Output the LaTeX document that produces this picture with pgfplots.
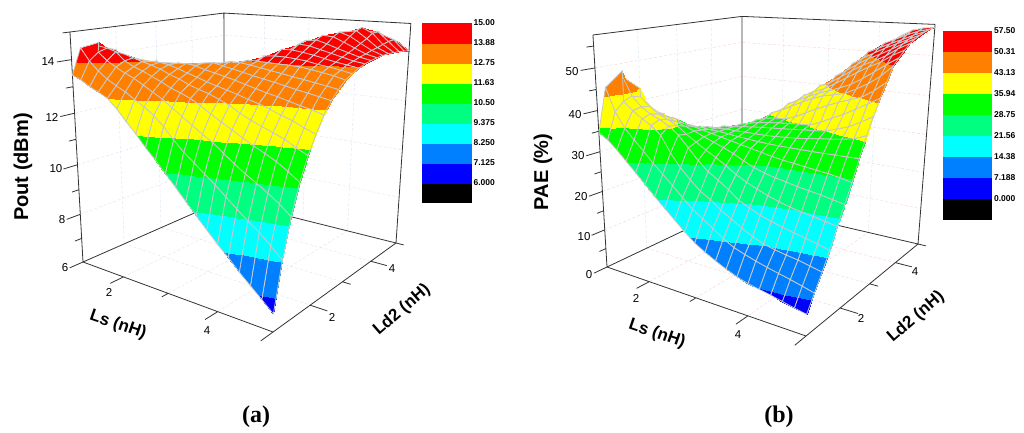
\documentclass[border=0pt]{standalone}
\usepackage{pgfplots}
\usepackage{pgfplotstable}
\pgfplotsset{compat=1.18}
\usepackage{fontspec}
\setmainfont{Liberation Sans}
\newfontfamily\serifb{Liberation Serif}
\definecolor{gridH}{RGB}{232,228,238}
\definecolor{gridV}{RGB}{220,232,245}
\definecolor{gridP}{RGB}{250,215,215}
\definecolor{meshc}{RGB}{200,200,200}
\newcommand{\fs}[1]{\fontsize{#1}{#1}\selectfont}
\pgfplotsset{
  colormap={bands}{rgb255=(0,0,0) rgb255=(0,0,255) rgb255=(0,128,255) rgb255=(0,255,255) rgb255=(0,255,128) rgb255=(0,255,0) rgb255=(255,255,0) rgb255=(255,128,0) rgb255=(255,0,0)},
  panel/.style={scale only axis,width=512pt,height=433pt,hide axis,y dir=reverse,ymin=0,ymax=433,clip=false,
    colormap name=bands,colormap access=piecewise constant,colorbar},
  cbstyle/.style={major tick length=0pt,axis line style={draw=none},
    yticklabel style={font=\fs{8.5}\bfseries,xshift=-1pt}},
  /pgf/declare function={
    lsv(\i)=1+0.2*mod(\i,21);
    ldv(\i)=5-0.2*floor(\i/21);
    % perspective of panel a: Ls, Ld2, Pout to pixels
    aw(\a,\b,\c)=1-0.188*(\a-1)/4+0.239*(\b-1)/4-0.084*(\c-6)/9;
    aX(\a,\b,\c)=(83+138.7*(\a-1)/4+194.5*(\b-1)/4-18.9*(\c-6)/9)/aw(\a,\b,\c);
    aY(\a,\b,\c)=(262+7.6*(\a-1)/4-14.2*(\b-1)/4-232.7*(\c-6)/9)/aw(\a,\b,\c);
    % perspective of panel b: Ls, Ld2, PAE to pixels
    bw(\a,\b,\c)=1-0.1917*(\a-1)/4+0.2527*(\b-1)/4-0.094*\c/57.5;
    bX(\a,\b,\c)=(607+44.5*(\a-1)/4+322.5*(\b-1)/4-69.8*\c/57.5)/bw(\a,\b,\c);
    bY(\a,\b,\c)=(267+4.6*(\a-1)/4-12.7*(\b-1)/4-235.3*\c/57.5)/bw(\a,\b,\c);
  },
  table/ptsA/.style={x expr={aX(\thisrow{s},\thisrow{d},\thisrow{z})},y expr={aY(\thisrow{s},\thisrow{d},\thisrow{z})}},
  table/ptsB/.style={x expr={bX(\thisrow{s},\thisrow{d},\thisrow{z})},y expr={bY(\thisrow{s},\thisrow{d},\thisrow{z})}},
}
% Pout, rows Ld2 = 5 ... 1, columns Ls = 1 ... 5, step 0.2
\pgfplotstableread[row sep=crcr]{z\\%
12.6\\12.62\\12.65\\12.68\\12.7\\12.75\\12.8\\12.84\\12.88\\12.92\\12.98\\13.05\\13.12\\13.25\\13.48\\13.76\\14.05\\14.3\\14.35\\14.25\\13.95\\%
12.68\\12.7\\12.72\\12.76\\12.78\\12.8\\12.84\\12.88\\12.92\\12.96\\13.02\\13.1\\13.18\\13.32\\13.58\\13.88\\14.22\\14.5\\14.55\\14.4\\14\\%
12.72\\12.74\\12.76\\12.8\\12.82\\12.85\\12.88\\12.92\\12.96\\13\\13.06\\13.14\\13.24\\13.4\\13.68\\14\\14.38\\14.7\\14.72\\14.38\\14.03\\%
12.77\\12.78\\12.8\\12.84\\12.86\\12.9\\12.93\\12.97\\13\\13.06\\13.12\\13.2\\13.3\\13.47\\13.78\\14.12\\14.55\\14.9\\14.7\\14.32\\14.05\\%
12.82\\12.84\\12.86\\12.9\\12.92\\12.95\\12.98\\13.02\\13.06\\13.12\\13.18\\13.26\\13.36\\13.55\\13.9\\14.28\\14.75\\14.82\\14.55\\14.25\\14.06\\%
12.88\\12.9\\12.92\\12.95\\12.98\\13\\13.04\\13.08\\13.12\\13.18\\13.24\\13.32\\13.42\\13.65\\14.05\\14.45\\14.78\\14.65\\14.42\\14.2\\14.05\\%
12.95\\12.96\\12.98\\13\\13.03\\13.06\\13.1\\13.14\\13.18\\13.24\\13.3\\13.38\\13.5\\13.8\\14.25\\14.68\\14.65\\14.48\\14.3\\14.12\\14.02\\%
13.02\\13.03\\13.05\\13.08\\13.1\\13.13\\13.16\\13.2\\13.24\\13.3\\13.36\\13.45\\13.6\\13.95\\14.5\\14.55\\14.44\\14.3\\14.18\\14.06\\13.98\\%
13.1\\13.1\\13.12\\13.15\\13.17\\13.2\\13.23\\13.27\\13.3\\13.36\\13.42\\13.52\\13.72\\14.15\\14.42\\14.38\\14.28\\14.18\\14.08\\13.98\\13.92\\%
13.17\\13.17\\13.2\\13.22\\13.25\\13.27\\13.3\\13.34\\13.38\\13.44\\13.5\\13.62\\13.9\\14.25\\14.25\\14.2\\14.13\\14.05\\13.96\\13.9\\13.83\\%
13.25\\13.25\\13.27\\13.3\\13.32\\13.35\\13.38\\13.42\\13.47\\13.52\\13.6\\13.78\\14.02\\14.05\\14.05\\14.02\\13.98\\13.9\\13.85\\13.78\\13.7\\%
13.38\\13.38\\13.38\\13.4\\13.42\\13.44\\13.47\\13.5\\13.55\\13.62\\13.72\\13.88\\13.88\\13.87\\13.86\\13.85\\13.83\\13.78\\13.72\\13.65\\13.55\\%
13.45\\13.45\\13.45\\13.47\\13.5\\13.52\\13.55\\13.6\\13.66\\13.75\\13.85\\13.85\\13.8\\13.74\\13.68\\13.62\\13.55\\13.5\\13.43\\13.37\\13.3\\%
13.55\\13.55\\13.55\\13.58\\13.6\\13.62\\13.66\\13.7\\13.77\\13.83\\13.75\\13.68\\13.6\\13.52\\13.45\\13.38\\13.3\\13.22\\13.15\\13.08\\13\\%
13.7\\13.7\\13.7\\13.7\\13.7\\13.72\\13.75\\13.78\\13.73\\13.63\\13.55\\13.47\\13.38\\13.28\\13.18\\13.08\\13\\12.9\\12.8\\12.72\\12.6\\%
13.85\\13.87\\13.85\\13.82\\13.8\\13.8\\13.75\\13.65\\13.53\\13.42\\13.3\\13.2\\13.1\\13\\12.88\\12.78\\12.65\\12.5\\12.38\\12.2\\12.05\\%
14.1\\14.1\\14.05\\13.95\\13.85\\13.76\\13.65\\13.5\\13.38\\13.22\\13.1\\13\\12.85\\12.7\\12.48\\12.3\\12.15\\12\\11.85\\11.63\\11.45\\%
14.35\\14.3\\14.2\\13.9\\13.72\\13.6\\13.45\\13.3\\13.12\\13\\12.85\\12.65\\12.42\\12.2\\12\\11.78\\11.58\\11.4\\11.2\\10.95\\10.67\\%
14.48\\14.2\\13.92\\13.72\\13.55\\13.4\\13.2\\13\\12.8\\12.55\\12.3\\12.05\\11.8\\11.58\\11.28\\11\\10.73\\10.5\\10.25\\9.97\\9.65\\%
14.38\\13.93\\13.6\\13.35\\13.15\\12.98\\12.75\\12.55\\12.3\\11.97\\11.56\\11.2\\10.9\\10.6\\10.3\\9.97\\9.65\\9.33\\9.05\\8.7\\8.32\\%
13.43\\13.3\\13.1\\12.95\\12.77\\12.45\\12.05\\11.67\\11.25\\10.88\\10.48\\10.07\\9.66\\9.25\\8.85\\8.45\\8.1\\7.7\\7.35\\7\\6.64\\%
}\dataA
% PAE, rows Ld2 = 5 ... 1, columns Ls = 1 ... 5, step 0.2
\pgfplotstableread[row sep=crcr]{z\\%
24.9\\24.7\\24.6\\24.6\\24.6\\24.8\\25.1\\25.5\\26\\26.6\\27.3\\28.6\\31\\34.5\\39\\45\\50\\54.3\\55.8\\56.5\\56.8\\%
25.2\\25\\24.9\\24.9\\24.9\\25.1\\25.4\\25.8\\26.3\\26.9\\27.7\\29.7\\33\\37\\42\\47.8\\52.6\\53.8\\55\\56\\56.6\\%
25.6\\25.4\\25.3\\25.3\\25.3\\25.5\\25.8\\26.2\\26.7\\27.3\\28.6\\31.4\\35.2\\39.5\\45\\50.6\\51.8\\53\\54.1\\55.3\\56.3\\%
26\\25.8\\25.7\\25.7\\25.7\\25.9\\26.2\\26.6\\27.1\\28\\30\\33.4\\37.6\\42.2\\47.7\\49.4\\50.8\\52.2\\53.4\\54.6\\55.8\\%
26.4\\26.2\\26.1\\26.1\\26.1\\26.3\\26.6\\27\\27.6\\29\\31.8\\35.6\\40\\44.85\\46.5\\48.2\\49.8\\51\\52.4\\53.9\\55.2\\%
26.8\\26.6\\26.5\\26.5\\26.6\\26.8\\27.1\\27.5\\28.3\\30.4\\33.8\\38\\42.55\\43.6\\45.3\\47\\48.6\\49.8\\51.2\\53\\54.4\\%
27.4\\27.2\\27\\27\\27.1\\27.3\\27.6\\28.1\\29.4\\32\\36\\40.25\\41.4\\42.5\\44\\45.6\\47.2\\48.7\\50\\51.8\\53.2\\%
28\\27.7\\27.5\\27.5\\27.7\\27.9\\28.3\\29\\31\\34\\38.2\\39.5\\40.7\\41.8\\42.7\\43.7\\44.8\\46.4\\48.2\\50.1\\51.8\\%
28.6\\28.4\\28.2\\28.2\\28.4\\28.7\\29.3\\30.4\\32.6\\36.2\\37.2\\38.5\\39.8\\41\\41.9\\42.5\\43.1\\44.4\\45.9\\47.8\\50.3\\%
29.5\\29.2\\29\\29\\29.3\\29.7\\30.5\\32\\34.5\\35.3\\35.7\\35.85\\36.7\\38\\39.3\\40.4\\41.5\\42.4\\43.3\\45\\47.2\\%
30.5\\30.2\\30\\30\\30.2\\30.7\\31.9\\33.6\\34.2\\34.8\\35.1\\35.4\\35.6\\35.8\\35.95\\37\\38.3\\39.5\\41\\42.5\\44.1\\%
31.8\\31.5\\31\\31\\31.2\\31.9\\33.35\\33.5\\33.9\\34.2\\34.5\\34.7\\34.9\\35.1\\35.4\\35.6\\35.85\\36.7\\37.6\\39\\40.6\\%
33.2\\32.8\\32.2\\32\\32.4\\33.35\\33.4\\33.5\\33.5\\33.5\\33.5\\33.5\\33.6\\33.8\\34\\34.3\\34.7\\35\\35.4\\35.85\\37\\%
35\\34.4\\33.6\\33.4\\33.9\\33.8\\33.6\\33.5\\33.3\\33\\32.8\\32.6\\32.5\\32.4\\32.4\\32.4\\32.4\\32.4\\32.5\\32.5\\32.6\\%
37\\36.2\\35.3\\35.9\\35\\34.6\\34.1\\33.6\\33.1\\32.6\\32.1\\31.6\\31.1\\30.6\\30.2\\29.9\\29.6\\29.3\\29\\28.6\\28\\%
39.5\\38.5\\37.7\\36.9\\36\\35.2\\34.4\\33.4\\32.5\\31.6\\30.6\\29.3\\28.2\\27.4\\26.8\\26.3\\25.8\\25.4\\25\\24.5\\24\\%
43\\41.6\\39.6\\38\\37\\35.94\\34.2\\32.7\\31.2\\29.9\\28.4\\26.8\\25.5\\24.4\\23.4\\22.6\\21.9\\21.4\\21\\20.5\\20\\%
46.7\\42.3\\40\\38.6\\37.6\\36.4\\34.6\\32\\29.4\\27.2\\25.7\\24\\22\\20.8\\19.7\\18.9\\18.2\\17.6\\17\\16.4\\15.7\\%
48.2\\41.5\\39.6\\38\\36.7\\34.8\\31\\27.9\\25.5\\23.3\\21.9\\20\\18.5\\17\\15.7\\14.6\\14\\13.5\\13.1\\12.5\\11.9\\%
45\\39.5\\35.9\\33.5\\31.2\\28.75\\26.6\\24.4\\22.1\\19.9\\18.2\\16.6\\14.8\\13.4\\12.5\\11.7\\11\\10.4\\9.8\\9.1\\8.4\\%
34.7\\33.3\\31.3\\29\\26.7\\24.4\\22\\19.8\\17.6\\15.4\\13.4\\11.9\\10.6\\9.4\\8.4\\7.6\\7.1\\6.6\\6\\5.4\\4.9\\%
}\dataB
\begin{document}
\begin{tikzpicture}
\useasboundingbox (0,0) rectangle (1024pt,433pt);
% ---------- panel a
\begin{axis}[panel,xmin=0,xmax=512,at={(0,0)},anchor=south west,
  point meta min=4.875,point meta max=15,
  colorbar style={at={(422/512,1-23/433)},anchor=north west,width=49pt,height=180pt,cbstyle,
    ytick={6,7.125,8.25,9.375,10.5,11.625,12.75,13.875,15},
    yticklabels={6.000,7.125,8.250,9.375,10.50,11.63,12.75,13.88,15.00}}]
\addplot[gridH,line width=0.5pt,densely dashed,empty line=jump] table[ptsA] {
s d z
1 1 8
1 5 8
5 5 8

1 1 10
1 5 10
5 5 10

1 1 12
1 5 12
5 5 12

1 1 14
1 5 14
5 5 14

2 1 6
2 5 6

3 1 6
3 5 6

4 1 6
4 5 6

1 2 6
5 2 6

1 3 6
5 3 6

1 4 6
5 4 6
};
\addplot[gridV,line width=0.5pt,densely dashed,empty line=jump] table[ptsA] {
s d z
1 2 6
1 2 15

1 3 6
1 3 15

1 4 6
1 4 15

2 5 6
2 5 15

3 5 6
3 5 15

4 5 6
4 5 15
};
% box and ticks
\addplot[black!80,line width=0.8pt,empty line=jump] table[ptsA] {
s d z
1 1 15
1 5 15
5 5 15

1 5 6
1 5 15

1 1 6
1 5 6
5 5 6
5 5 15

1 1 6
1 1 15

1 1 6
5 1 6
5 5 6

1 0.7 6
1 1 6

1 0.85 7
1 1 7

1 0.7 8
1 1 8

1 0.85 9
1 1 9

1 0.7 10
1 1 10

1 0.85 11
1 1 11

1 0.7 12
1 1 12

1 0.85 13
1 1 13

1 0.7 14
1 1 14

1 0.85 15
1 1 15

2 0.7 6
2 1 6

3 0.85 6
3 1 6

4 0.7 6
4 1 6

5 0.7 6
5 1 6

5 2 6
5.3 2 6

5 3 6
5.15 3 6

5 4 6
5.3 4 6

5 5 6
5.15 5 6
};
\addplot[surf,shader=faceted interp,faceted color=meshc,line width=0.8pt,point meta=explicit,mesh/rows=21,mesh/cols=21]
  table[x index=0,y index=0,x expr={aX(lsv(\coordindex),ldv(\coordindex),\thisrow{z})},
        y expr={aY(lsv(\coordindex),ldv(\coordindex),\thisrow{z})},meta=z] {\dataA};
\node[font=\fs{11.5}] at (axis cs:48,62) {14};
\node[font=\fs{11.5}] at (axis cs:52,117) {12};
\node[font=\fs{11.5}] at (axis cs:56,169) {10};
\node[font=\fs{11.5}] at (axis cs:62,220) {8};
\node[font=\fs{11.5}] at (axis cs:65,268) {6};
\node[font=\fs{11.5}] at (axis cs:109,292) {2};
\node[font=\fs{11.5}] at (axis cs:207,331) {4};
\node[font=\fs{11.5}] at (axis cs:332,317) {2};
\node[font=\fs{11.5}] at (axis cs:392,269) {4};
\node[font=\fs{20}\bfseries,rotate=90] at (axis cs:23,167) {Pout (dBm)};
\node[font=\fs{17}\bfseries,rotate=-19] at (axis cs:118,325) {Ls (nH)};
\node[font=\fs{17}\bfseries,rotate=41] at (axis cs:402,310) {Ld2 (nH)};
\node[font=\serifb\fs{24}\bfseries] at (axis cs:256,417) {(a)};
\end{axis}
% ---------- panel b
\begin{axis}[panel,xmin=512,xmax=1024,at={(512pt,0)},anchor=south west,
  point meta min=-7.1875,point meta max=57.5,
  colorbar style={at={(431/512,1-31/433)},anchor=north west,width=48.5pt,height=188.5pt,cbstyle,
    ytick={0,7.1875,14.375,21.5625,28.75,35.9375,43.125,50.3125,57.5},
    yticklabels={0.000,7.188,14.38,21.56,28.75,35.94,43.13,50.31,57.50}}]
\addplot[gridP,line width=0.5pt,densely dashed,empty line=jump] table[ptsB] {
s d z
1 1 10
1 5 10
5 5 10

1 1 20
1 5 20
5 5 20

1 1 30
1 5 30
5 5 30

1 1 40
1 5 40
5 5 40

1 1 50
1 5 50
5 5 50

2 1 0
2 5 0

3 1 0
3 5 0

4 1 0
4 5 0

1 2 0
5 2 0

1 3 0
5 3 0

1 4 0
5 4 0
};
\addplot[gridV,line width=0.5pt,densely dashed,empty line=jump] table[ptsB] {
s d z
1 2 0
1 2 57.5

1 3 0
1 3 57.5

1 4 0
1 4 57.5

2 5 0
2 5 57.5

3 5 0
3 5 57.5

4 5 0
4 5 57.5
};
\addplot[black!80,line width=0.8pt,empty line=jump] table[ptsB] {
s d z
1 1 57.5
1 5 57.5
5 5 57.5

1 5 0
1 5 57.5

1 1 0
1 5 0
5 5 0
5 5 57.5

1 1 0
1 1 57.5

1 1 0
5 1 0
5 5 0

1 0.7 0
1 1 0

1 0.85 5
1 1 5

1 0.7 10
1 1 10

1 0.85 15
1 1 15

1 0.7 20
1 1 20

1 0.85 25
1 1 25

1 0.7 30
1 1 30

1 0.85 35
1 1 35

1 0.7 40
1 1 40

1 0.85 45
1 1 45

1 0.7 50
1 1 50

1 0.85 55
1 1 55

2 0.7 0
2 1 0

3 0.85 0
3 1 0

4 0.7 0
4 1 0

5 0.7 0
5 1 0

5 2 0
5.3 2 0

5 3 0
5.15 3 0

5 4 0
5.3 4 0

5 5 0
5.15 5 0
};
\addplot[surf,shader=faceted interp,faceted color=meshc,line width=0.8pt,point meta=explicit,mesh/rows=21,mesh/cols=21]
  table[x index=0,y index=0,x expr={bX(lsv(\coordindex),ldv(\coordindex),\thisrow{z})},
        y expr={bY(lsv(\coordindex),ldv(\coordindex),\thisrow{z})},meta=z] {\dataB};
\node[font=\fs{11.5}] at (axis cs:572,72) {50};
\node[font=\fs{11.5}] at (axis cs:575,115) {40};
\node[font=\fs{11.5}] at (axis cs:578,156) {30};
\node[font=\fs{11.5}] at (axis cs:581,197) {20};
\node[font=\fs{11.5}] at (axis cs:584,237) {10};
\node[font=\fs{11.5}] at (axis cs:589,275) {0};
\node[font=\fs{11.5}] at (axis cs:636,298) {2};
\node[font=\fs{11.5}] at (axis cs:738,335) {4};
\node[font=\fs{11.5}] at (axis cs:861,318) {2};
\node[font=\fs{11.5}] at (axis cs:915,272) {4};
\node[font=\fs{20}\bfseries,rotate=90] at (axis cs:543,172) {PAE (\%)};
\node[font=\fs{17}\bfseries,rotate=-19] at (axis cs:657,334) {Ls (nH)};
\node[font=\fs{17}\bfseries,rotate=41] at (axis cs:916,317) {Ld2 (nH)};
\node[font=\serifb\fs{24}\bfseries] at (axis cs:779,417) {(b)};
\end{axis}
\end{tikzpicture}
\end{document}
